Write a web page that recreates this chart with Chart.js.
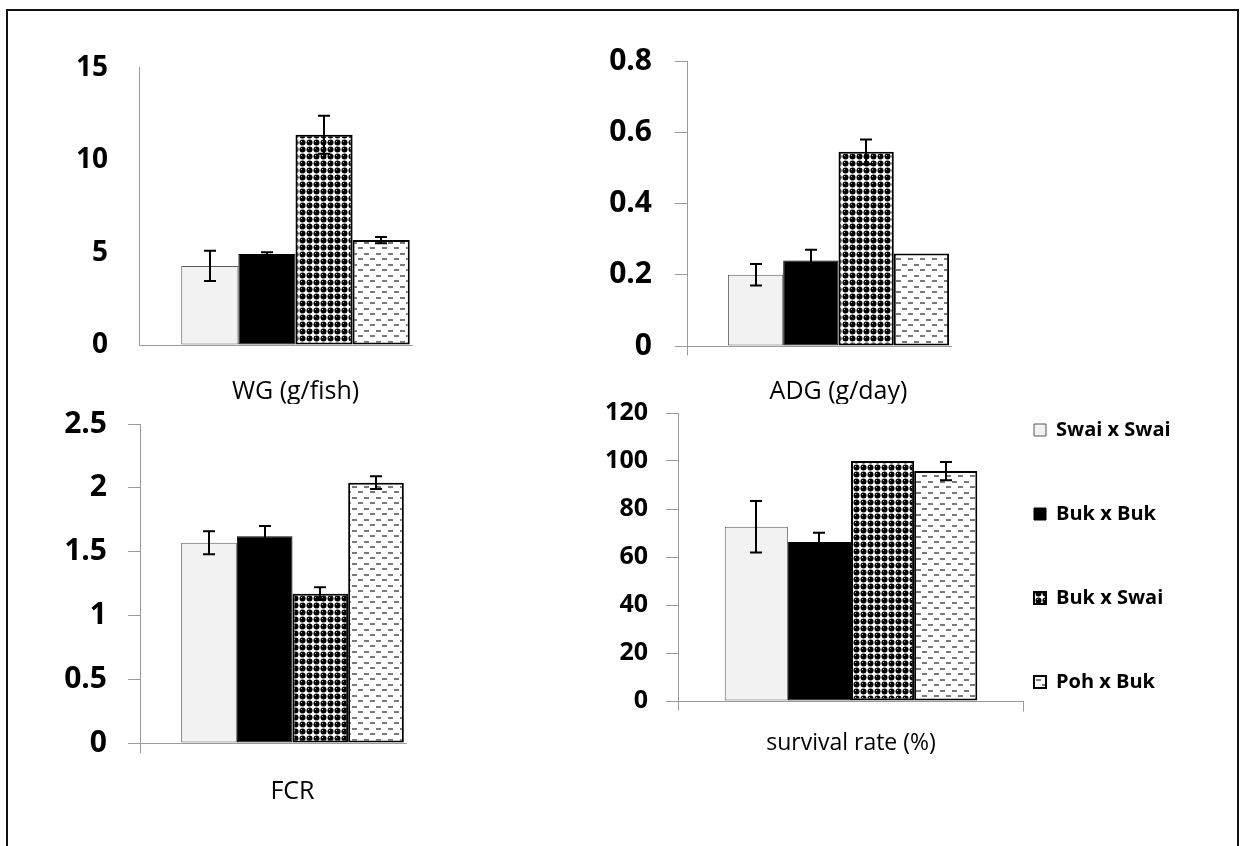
<!DOCTYPE html>
<html>
<head>
<meta charset="utf-8">
<title>Growth performance of crosses</title>
<script src="https://cdn.jsdelivr.net/npm/chart.js@4.4.1/dist/chart.umd.min.js"></script>
<style>
    body { margin: 0; background: #fff; }
    #page { position: relative; width: 1241px; height: 846px; overflow: hidden; }
    .frame { position: absolute; left: 6px; top: 9px; width: 1229px; height: 900px; border: 2px solid #111; }
    canvas { position: absolute; }
</style>
</head>
<body>
<div id="page">
    <div class="frame"></div>
    <canvas id="wgChart" width="412" height="384" style="left:40px;top:20px"></canvas>
    <canvas id="adgChart" width="400" height="384" style="left:590px;top:20px"></canvas>
    <canvas id="fcrChart" width="405" height="461" style="left:40px;top:385px"></canvas>
    <canvas id="srChart" width="620" height="466" style="left:580px;top:380px"></canvas>
</div>
<script>
// Crosses, in legend order
const groups = ['Swai x Swai', 'Buk x Buk', 'Buk x Swai', 'Poh x Buk'];

// Weight gain (g/fish)
const wgMean = [4.28, 4.92, 11.38, 5.68];
const wgErr = [0.82, 0.1, 1.03, 0.17];
const wgTicks = [0, 5, 10, 15];

// Average daily gain (g/day)
const adgMean = [0.2, 0.24, 0.545, 0.26];
const adgErr = [0.03, 0.03, 0.035, 0];
const adgTicks = [0, 0.2, 0.4, 0.6, 0.8];

// Feed conversion ratio
const fcrMean = [1.57, 1.62, 1.17, 2.04];
const fcrErr = [0.09, 0.08, 0.05, 0.05];
const fcrTicks = [0, 0.5, 1, 1.5, 2, 2.5];

// Survival rate (%)
const srMean = [72.6, 66.2, 100, 95.8];
const srErr = [10.7, 3.9, 0, 3.8];
const srTicks = [0, 20, 40, 60, 80, 100, 120];

const axisGrey = '#9a9a9a';
Chart.defaults.font.family = "'Open Sans', sans-serif";
Chart.defaults.color = '#000';

function makePattern(w, h, draw) {
    const c = document.createElement('canvas');
    c.width = w;
    c.height = h;
    const g = c.getContext('2d');
    draw(g);
    return g.createPattern(c, 'repeat');
}

// black balls with a small highlight
const ballPattern = makePattern(7, 7, g => {
    g.fillStyle = '#fff';
    g.fillRect(0, 0, 7, 7);
    g.fillStyle = '#000';
    g.beginPath();
    g.arc(3.5, 3.5, 3, 0, Math.PI * 2);
    g.fill();
    g.fillStyle = '#aaa';
    g.fillRect(2, 2, 1, 1);
});

// staggered grey dashes
const dashPattern = makePattern(12, 11, g => {
    g.fillStyle = '#fff';
    g.fillRect(0, 0, 12, 11);
    g.fillStyle = '#7a7a7a';
    g.fillRect(0, 2, 5, 2);
    g.fillRect(6, 7, 5, 2);
});

const barStyles = [
    { backgroundColor: '#f2f2f2', borderColor: '#595959', borderWidth: 1 },
    { backgroundColor: '#000', borderColor: '#000', borderWidth: 1 },
    { backgroundColor: ballPattern, borderColor: '#000', borderWidth: 2 },
    { backgroundColor: dashPattern, borderColor: '#000', borderWidth: 2 }
];

function barsFor(means, errs) {
    return groups.map((g, i) => ({
        label: g,
        data: [means[i]],
        errors: [errs[i]],
        ...barStyles[i],
        borderSkipped: false,
        categoryPercentage: 0.73,
        barPercentage: 1
    }));
}

// Excel-like axes: x line stops just after the last bar, y line pokes under the base
const excelAxes = {
    id: 'excelAxes',
    beforeDatasetsDraw(chart, args, opts) {
        const { ctx, chartArea, scales: { y } } = chart;
        const base = Math.round(y.getPixelForValue(0)) + 0.5;
        const left = Math.floor(chartArea.left) + 0.5;
        let end = chartArea.right;
        if (!opts.toEdge) {
            const metas = chart.getSortedVisibleDatasetMetas();
            const last = metas[metas.length - 1].data[0];
            end = last.x + last.width / 2 + 3;
        }
        ctx.save();
        ctx.strokeStyle = axisGrey;
        ctx.lineWidth = 1;
        ctx.beginPath();
        ctx.moveTo(left, base);
        ctx.lineTo(end, base);
        if (opts.tail) {
            ctx.moveTo(left, base);
            ctx.lineTo(left, base + opts.tail);
        }
        if (opts.endTick) {
            const ex = Math.round(end) - 0.5;
            ctx.moveTo(ex, base);
            ctx.lineTo(ex, base + opts.endTick);
        }
        ctx.stroke();
        ctx.restore();
    }
};

const errorBars = {
    id: 'errorBars',
    afterDatasetsDraw(chart) {
        const { ctx, scales: { y } } = chart;
        ctx.save();
        ctx.strokeStyle = '#000';
        ctx.lineWidth = 2;
        chart.data.datasets.forEach((ds, i) => {
            chart.getDatasetMeta(i).data.forEach((bar, j) => {
                const err = ds.errors[j];
                if (!err) return;
                const top = y.getPixelForValue(ds.data[j] + err);
                const bottom = y.getPixelForValue(ds.data[j] - err);
                const x = Math.round(bar.x);
                ctx.beginPath();
                ctx.moveTo(x, top);
                ctx.lineTo(x, bottom);
                ctx.moveTo(x - 6, top);
                ctx.lineTo(x + 6, top);
                ctx.moveTo(x - 6, bottom);
                ctx.lineTo(x + 6, bottom);
                ctx.stroke();
            });
        });
        ctx.restore();
    }
};

// the legend sits over the chart's right margin, not beside it
// (only left/top move, so the legend's clip box grows instead of cutting text)
const legendNudge = {
    id: 'legendNudge',
    afterLayout(chart, args, opts) {
        const lg = chart.legend;
        if (!lg || !lg.options.display || !opts.dx) return;
        lg.left += opts.dx;
        lg.top += opts.dy;
    }
};

function makeChart(canvasId, cfg) {
    return new Chart(document.getElementById(canvasId), {
        type: 'bar',
        data: { labels: [cfg.title], datasets: barsFor(cfg.means, cfg.errs) },
        plugins: [excelAxes, errorBars, legendNudge],
        options: {
            responsive: false,
            animation: false,
            layout: { padding: { top: cfg.padTop } },
            plugins: {
                legend: cfg.legend || { display: false },
                tooltip: { enabled: false },
                excelAxes: cfg.axis,
                legendNudge: cfg.nudge || {}
            },
            scales: {
                x: {
                    ticks: { display: false },
                    grid: { display: false },
                    border: { display: false },
                    title: {
                        display: true,
                        text: cfg.title,
                        color: '#000',
                        font: { size: cfg.titleSize, lineHeight: 1 },
                        padding: { top: 0, bottom: cfg.titlePad }
                    },
                    afterFit: s => { s.height = cfg.xHeight; }
                },
                y: {
                    min: cfg.ticks[0],
                    max: cfg.ticks[cfg.ticks.length - 1],
                    ticks: {
                        stepSize: cfg.ticks[1] - cfg.ticks[0],
                        color: '#000',
                        padding: cfg.tickPad,
                        font: { size: cfg.tickSize, weight: 'bold' },
                        callback: v => String(+v.toFixed(2))
                    },
                    grid: { drawOnChartArea: false, drawTicks: cfg.tickLen > 0, tickLength: cfg.tickLen, color: axisGrey },
                    border: { color: axisGrey },
                    afterFit: s => { s.width = cfg.yWidth; }
                }
            }
        }
    });
}

makeChart('wgChart', {
    title: 'WG (g/fish)', means: wgMean, errs: wgErr, ticks: wgTicks,
    padTop: 29, yWidth: 99, xHeight: 59, tickLen: 0, tickPad: 31, tickSize: 28,
    titleSize: 25, titlePad: 0, axis: { tail: 0 }
});

makeChart('adgChart', {
    title: 'ADG (g/day)', means: adgMean, errs: adgErr, ticks: adgTicks,
    padTop: 38, yWidth: 97, xHeight: 58, tickLen: 12, tickPad: 23, tickSize: 30,
    titleSize: 25, titlePad: 0, axis: { tail: 9 }
});

makeChart('fcrChart', {
    title: 'FCR', means: fcrMean, errs: fcrErr, ticks: fcrTicks,
    padTop: 30, yWidth: 100, xHeight: 103, tickLen: 12, tickPad: 21, tickSize: 30,
    titleSize: 25, titlePad: 42, axis: { tail: 10 }
});

makeChart('srChart', {
    title: 'survival rate (%)', means: srMean, errs: srErr, ticks: srTicks,
    padTop: 32, yWidth: 98, xHeight: 145, tickLen: 12, tickPad: 18, tickSize: 25,
    titleSize: 23, titlePad: 91.5, axis: { toEdge: true, tail: 9, endTick: 10 },
    legend: {
        display: true,
        position: 'right',
        align: 'start',
        maxWidth: 176,
        labels: { boxWidth: 12, boxHeight: 12, padding: 64, color: '#000', font: { size: 20, weight: 'bold' } }
    },
    nudge: { dx: -54, dy: -56 }
});
</script>
</body>
</html>
